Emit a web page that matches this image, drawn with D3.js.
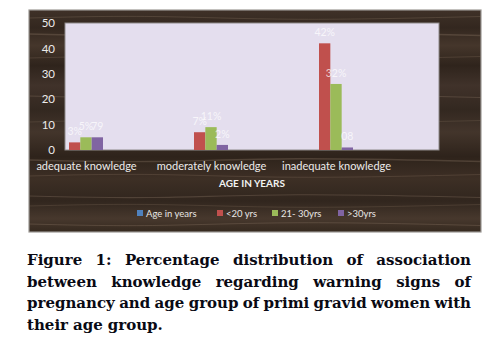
<!DOCTYPE html>
<html>
<head>
<meta charset="utf-8">
<script src="https://cdn.jsdelivr.net/npm/d3@7"></script>
<style>
  body { margin: 0; background: #fff; }
  svg { display: block; }
</style>
</head>
<body>
<svg id="chart" width="502" height="347"></svg>
<script>
// data
const categories = ["adequate knowledge", "moderately knowledge", "inadequate knowledge"];
const seriesNames = ["Age in years", "<20 yrs", "21- 30yrs", ">30yrs"];
const seriesColors = ["#4F81BD", "#C0504D", "#9BBB59", "#8064A2"];
const under20 = [3, 7, 42];
const from21to30 = [5, 9, 26];
const over30 = [5, 2, 1];
const labelsUnder20 = ["3%", "7%", "42%"];
const labels21to30 = ["5%", "11%", "32%"];
const labelsOver30 = ["79", "2%", "08"];
const yTicks = [0, 10, 20, 30, 40, 50];
const captionLines = [
  "Figure 1: Percentage distribution of association",
  "between knowledge regarding warning signs of",
  "pregnancy and age group of primi gravid women with",
  "their age group."
];

const svg = d3.select("#chart");
const frame = {x: 29, y: 10, w: 452, h: 222};
const plot = {left: 65, right: 439, top: 23, bottom: 150};

// wood frame
const defs = svg.append("defs");
const grad = defs.append("linearGradient").attr("id", "wood")
  .attr("x1", 0).attr("y1", 0).attr("x2", 0).attr("y2", 1);
const woodStops = [
  [0, "#3f3128"], [0.08, "#33271f"], [0.16, "#45362b"], [0.25, "#2f241c"],
  [0.34, "#40322a"], [0.45, "#332820"], [0.55, "#43352b"], [0.66, "#2e231b"],
  [0.76, "#3d2f25"], [0.86, "#31261e"], [0.94, "#47382d"], [1, "#35291f"]
];
woodStops.forEach(s => grad.append("stop").attr("offset", s[0]).attr("stop-color", s[1]));

svg.append("rect")
  .attr("x", frame.x).attr("y", frame.y).attr("width", frame.w).attr("height", frame.h)
  .attr("fill", "url(#wood)").attr("stroke", "#9c9894").attr("stroke-width", 1.2);

// a few light grain streaks
const streaks = [
  [18, 0.9], [34, 1.4], [58, 0.8], [96, 1.1], [122, 0.7], [160, 1.3],
  [176, 0.8], [196, 1.2], [206, 0.7], [224, 1.0]
];
const line = d3.line().curve(d3.curveBasis);
streaks.forEach((s, i) => {
  const y = s[0], dy = (i % 2 ? 3 : -3);
  svg.append("path")
    .attr("d", line([[frame.x, y], [frame.x + 120, y + dy], [frame.x + 260, y - dy], [frame.x + frame.w, y + dy / 2]]))
    .attr("fill", "none").attr("stroke", "#8a7664").attr("stroke-opacity", 0.35)
    .attr("stroke-width", s[1]);
});

// plot area
svg.append("rect")
  .attr("x", plot.left).attr("y", plot.top)
  .attr("width", plot.right - plot.left).attr("height", plot.bottom - plot.top)
  .attr("fill", "#e4deee").attr("stroke", "#8e8a8a").attr("stroke-width", 1);

const y = d3.scaleLinear().domain([0, 50]).range([plot.bottom, plot.top]);
const x0 = d3.scalePoint().domain(categories).range([86, 336]);
const x1 = d3.scaleBand().domain(seriesNames.slice(1)).range([-17, 17]);

const yAxis = svg.append("g")
  .attr("transform", "translate(" + (plot.left - 2) + ",0)")
  .call(d3.axisLeft(y).tickValues(yTicks).tickSize(0).tickPadding(8));
yAxis.select(".domain").remove();
yAxis.selectAll("text")
  .attr("fill", "#ecebea").style("font-family", "Lato, 'Open Sans', sans-serif").style("font-size", "11.5px");

const xAxis = svg.append("g")
  .attr("transform", "translate(0," + plot.bottom + ")")
  .call(d3.axisBottom(x0).tickSize(0).tickPadding(12));
xAxis.select(".domain").remove();
xAxis.selectAll("text")
  .attr("fill", "#ecebea").style("font-family", "Lato, 'Open Sans', sans-serif").style("font-size", "11px");

svg.append("text")
  .attr("x", 252).attr("y", 187).attr("text-anchor", "middle")
  .attr("fill", "#f2f2f2").style("font-family", "Lato, 'Open Sans', sans-serif")
  .style("font-size", "10px").style("font-weight", "bold")
  .text("AGE IN YEARS");

// bars
const rows = categories.map((c, i) => ({
  cat: c,
  vals: [
    {s: seriesNames[1], v: under20[i], lab: labelsUnder20[i], color: seriesColors[1]},
    {s: seriesNames[2], v: from21to30[i], lab: labels21to30[i], color: seriesColors[2]},
    {s: seriesNames[3], v: over30[i], lab: labelsOver30[i], color: seriesColors[3]}
  ]
}));

const groups = svg.append("g").selectAll("g").data(rows).join("g")
  .attr("transform", d => "translate(" + x0(d.cat) + ",0)");

groups.selectAll("rect").data(d => d.vals).join("rect")
  .attr("x", d => x1(d.s)).attr("width", x1.bandwidth())
  .attr("y", d => y(d.v)).attr("height", d => y(0) - y(d.v))
  .attr("fill", d => d.color);

groups.selectAll("text").data(d => d.vals).join("text")
  .attr("x", d => x1(d.s) + x1.bandwidth() / 2)
  .attr("y", d => y(d.v) - 7)
  .attr("text-anchor", "middle")
  .attr("fill", "#ffffff").attr("fill-opacity", 0.72)
  .style("font-family", "Lato, 'Open Sans', sans-serif").style("font-size", "10.5px")
  .text(d => d.lab);

// legend
const legendX = [137, 217, 272, 338];
const legend = svg.append("g").selectAll("g").data(seriesNames).join("g")
  .attr("transform", (d, i) => "translate(" + legendX[i] + ",213)");
legend.append("rect").attr("x", 0).attr("y", -3).attr("width", 6).attr("height", 6)
  .attr("fill", (d, i) => seriesColors[i]);
legend.append("text").attr("x", 9).attr("y", 3.5)
  .attr("fill", "#e8e6e4").style("font-family", "Lato, 'Open Sans', sans-serif").style("font-size", "9.5px")
  .text(d => d);

// caption, justified word by word
const capLeft = 27, capRight = 471, capTop = 265, capStep = 21.7;
captionLines.forEach((ln, li) => {
  const words = ln.split(" ");
  const g = svg.append("g");
  const texts = words.map(w => g.append("text")
    .attr("y", capTop + li * capStep)
    .attr("fill", "#0a0a14")
    .style("font-family", "'DejaVu Serif', serif").style("font-weight", "bold").style("font-size", "15px")
    .text(w));
  const widths = texts.map(t => t.node().getComputedTextLength());
  const total = d3.sum(widths);
  const last = li === captionLines.length - 1;
  const gap = last ? 5 : (capRight - capLeft - total) / (words.length - 1);
  let cx = capLeft;
  texts.forEach((t, i) => { t.attr("x", cx); cx += widths[i] + gap; });
});
</script>
</body>
</html>
